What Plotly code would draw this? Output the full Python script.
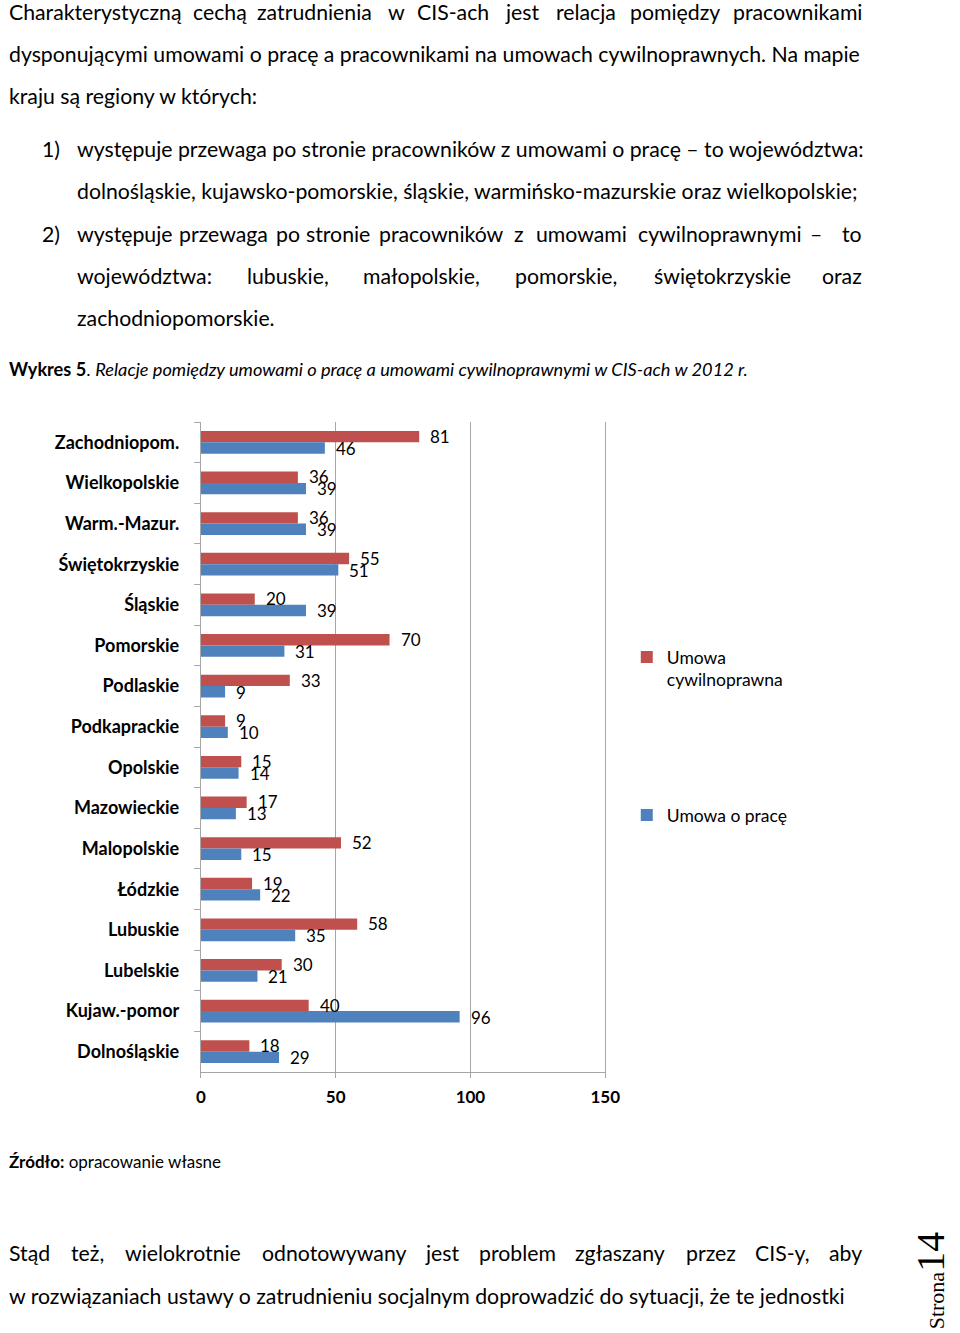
import plotly.graph_objects as go

# ---------------- data ----------------
categories = ["Zachodniopom.", "Wielkopolskie", "Warm.-Mazur.", "Świętokrzyskie",
              "Śląskie", "Pomorskie", "Podlaskie", "Podkaprackie", "Opolskie",
              "Mazowieckie", "Malopolskie", "Łódzkie", "Lubuskie", "Lubelskie",
              "Kujaw.-pomor", "Dolnośląskie"]
umowa_cywilnoprawna = [81, 36, 36, 55, 20, 70, 33, 9, 15, 17, 52, 19, 58, 30, 40, 18]
umowa_o_prace = [46, 39, 39, 51, 39, 31, 9, 10, 14, 13, 15, 22, 35, 21, 96, 29]
x_tick_values = [0, 50, 100, 150]
series_names = ["Umowa<br>cywilnoprawna", "Umowa o pracę"]

# ---------------- page geometry ----------------
W, H = 960, 1333
RED, BLUE = "#c0504d", "#4f81bd"
GRID = "#a6a6a6"
FONT = "Lato"


def px(x):
    return x / W


def py(y):
    return 1 - y / H


fig = go.Figure()
fig.add_bar(y=categories, x=umowa_cywilnoprawna, orientation="h", name=series_names[0],
            marker=dict(color=RED, line=dict(width=0)), legend="legend", showlegend=True)
fig.add_bar(y=categories, x=umowa_o_prace, orientation="h", name=series_names[1],
            marker=dict(color=BLUE, line=dict(width=0)), legend="legend2", showlegend=True)

annotations = []
# data labels (outside end of each bar)
for series, shift in ((umowa_cywilnoprawna, 6), (umowa_o_prace, -6)):
    for cat, v in zip(categories, series):
        annotations.append(dict(x=v, y=cat, xref="x", yref="y", text=str(v),
                                showarrow=False, xanchor="left", yanchor="middle",
                                xshift=9, yshift=shift,
                                font=dict(family=FONT, size=17, color="#000")))

# ---------------- page text ----------------
body = dict(family=FONT, size=21.25, color="#000")
small = dict(family=FONT, size=18.2, color="#000")


def add_text(x, y, text, anchor="left", font=body):
    annotations.append(dict(x=px(x), y=py(y), xref="paper", yref="paper", text=text,
                            showarrow=False, xanchor=anchor, yanchor="middle", font=font,
                            borderpad=0))


def add_words(y, words, right=876):
    n = len(words)
    for i, (x, w) in enumerate(words):
        if i == n - 1 and n > 1:
            add_text(right, y, w, "right")
        else:
            add_text(x, y, w)


add_words(12, [(3, "Charakterystyczną"), (191, "cechą"), (256, "zatrudnienia"), (390, "w"),
               (420, "CIS-ach"), (510, "jest"), (562, "relacja"), (637, "pomiędzy"),
               (744, "pracownikami")])
add_text(3, 54, "dysponującymi umowami o pracę a pracownikami na umowach cywilnoprawnych. Na mapie")
add_text(3, 96, "kraju są regiony w których:")
add_text(37, 149, "1)")
add_text(72, 149, "występuje przewaga po stronie pracowników z umowami o pracę – to województwa:")
add_text(72, 191, "dolnośląskie, kujawsko-pomorskie, śląskie, warmińsko-mazurskie oraz wielkopolskie;")
add_text(37, 234, "2)")
add_words(234, [(72, "występuje"), (177, "przewaga"), (276, "po"), (306, "stronie"),
                (381, "pracowników"), (519, "z"), (541, "umowami"), (645, "cywilnoprawnymi"),
                (821, "–"), (855, "to")])
add_words(276, [(72, "województwa:"), (246, "lubuskie,"), (365, "małopolskie,"),
                (520, "pomorskie,"), (662, "świętokrzyskie"), (835, "oraz")])
add_text(72, 318, "zachodniopomorskie.")
add_text(3, 369, "<b>Wykres 5</b>. <i>Relacje pomiędzy umowami o pracę a umowami "
                 "cywilnoprawnymi w CIS-ach w 2012 r.</i>", font=small)
add_text(3, 1161, "<b>Źródło:</b> opracowanie własne", font=dict(family=FONT, size=17, color="#000"))
add_words(1253, [(3, "Stąd"), (66, "też,"), (122, "wielokrotnie"), (261, "odnotowywany"),
                 (428, "jest"), (483, "problem"), (581, "zgłaszany"), (694, "przez"),
                 (765, "CIS-y,"), (843, "aby")])
add_text(3, 1296, "w rozwiązaniach ustawy o zatrudnieniu socjalnym doprowadzić do sytuacji, "
                  "że te jednostki")

annotations.append(dict(x=px(945), y=py(1281), xref="paper", yref="paper",
                        text="Strona<span style='font-size:40px'>14</span>", textangle=-90,
                        showarrow=False, xanchor="center", yanchor="middle",
                        font=dict(family="Liberation Serif", size=22, color="#000")))

fig.update_layout(
    width=W, height=H, autosize=False,
    margin=dict(l=0, r=0, t=0, b=0),
    paper_bgcolor="white", plot_bgcolor="white",
    barmode="group", bargap=0.44, bargroupgap=0,
    showlegend=True,
    font=dict(family=FONT, color="#000"),
    xaxis=dict(domain=[px(200), px(613)], range=[0, 150], tickvals=x_tick_values,
               showgrid=True, gridcolor=GRID, gridwidth=1, zeroline=False,
               showline=True, linecolor=GRID, linewidth=1,
               ticks="outside", ticklen=5, tickcolor=GRID,
               tickfont=dict(family=FONT, size=17, weight="bold", color="#000"),
               ticklabelstandoff=5, anchor="y"),
    yaxis=dict(domain=[py(1072), py(422)], type="category", autorange="reversed",
               showgrid=False, zeroline=False, showline=True, linecolor=GRID, linewidth=1,
               mirror=True,
               ticks="outside", tickson="boundaries", ticklen=6, tickcolor=GRID,
               tickfont=dict(family=FONT, size=18, weight="bold", color="#000"),
               ticklabelstandoff=17, anchor="x"),
    legend=dict(x=px(635), y=py(639), xanchor="left", yanchor="top", valign="top",
                font=dict(family=FONT, size=17.5, color="#000"), bgcolor="rgba(0,0,0,0)",
                itemclick=False, itemdoubleclick=False),
    legend2=dict(x=px(635), y=py(797), xanchor="left", yanchor="top", valign="top",
                 font=dict(family=FONT, size=17.5, color="#000"), bgcolor="rgba(0,0,0,0)",
                 itemclick=False, itemdoubleclick=False),
    annotations=annotations,
)

fig.write_html("out.html", config={"responsive": False, "displayModeBar": False},
               post_script="document.body.style.margin='0';document.body.style.overflow='hidden';")
